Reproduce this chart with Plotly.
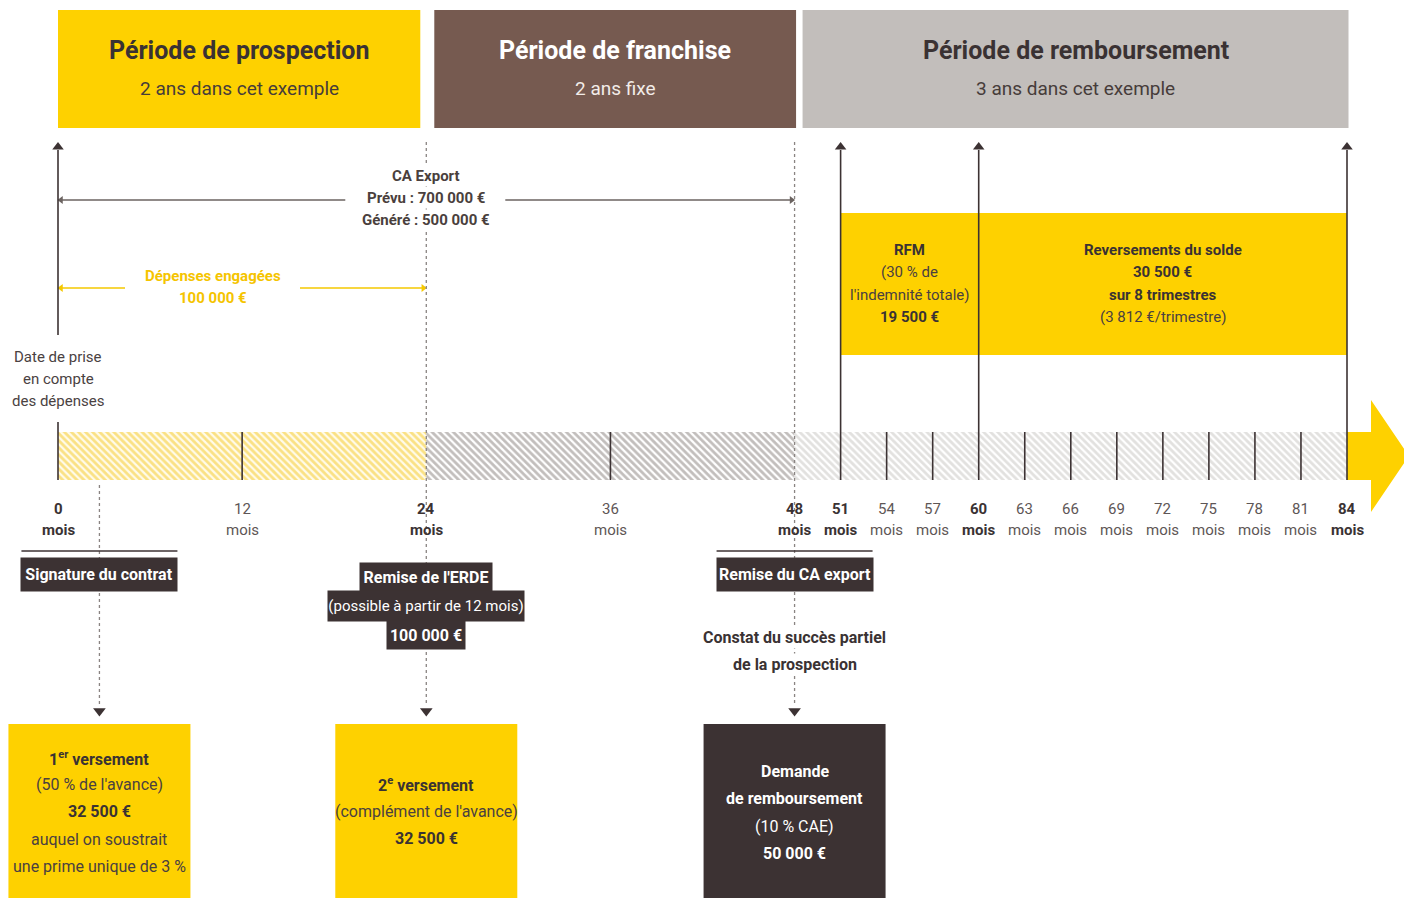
import plotly.graph_objects as go

# ---------------- data ----------------
period_titles = ["Période de prospection", "Période de franchise", "Période de remboursement"]
period_subtitles = ["2 ans dans cet exemple", "2 ans fixe", "3 ans dans cet exemple"]
period_start = [0, 24, 48]
period_end = [24, 48, 84]

month_ticks = [0, 12, 24, 36, 48, 51, 54, 57, 60, 63, 66, 69, 72, 75, 78, 81, 84]
bold_ticks = [0, 24, 48, 51, 60, 84]
tall_ticks = [51, 60, 84]          # arrows going up to the top bands
short_ticks = [12, 36, 54, 57, 63, 66, 69, 72, 75, 78, 81]
dotted_ticks = [24, 48]

ca_export_lines = ["CA Export", "Prévu : 700 000 €", "Généré : 500 000 €"]
depenses_lines = ["Dépenses engagées", "100 000 €"]
date_lines = ["Date de prise", "en compte", "des dépenses"]

rfm_start, rfm_split, rfm_end = 51, 60, 84
rfm_lines = [("RFM", True), ("(30 % de", False), ("l'indemnité totale)", False), ("19 500 €", True)]
solde_lines = [("Reversements du solde", True), ("30 500 €", True), ("sur 8 trimestres", True), ("(3 812 €/trimestre)", False)]

event_months = [2.7, 24, 48]
event_labels = [
    ["Signature du contrat"],
    ["Remise de l'ERDE", "(possible à partir de 12 mois)", "100 000 €"],
    ["Remise du CA export"],
]
event_bold = [[True], [True, False, True], [True]]
constat_lines = ["Constat du succès partiel", "de la prospection"]

box_lines = [
    [("1<sup>er</sup> versement", True), ("(50 % de l'avance)", False), ("32 500 €", True),
     ("auquel on soustrait", False), ("une prime unique de 3 %", False)],
    [("2<sup>e</sup> versement", True), ("(complément de l'avance)", False), ("32 500 €", True)],
    [("Demande", True), ("de remboursement", True), ("(10 % CAE)", False), ("50 000 €", True)],
]

# ---------------- style ----------------
FONT = "Roboto, Liberation Sans, sans-serif"
YELLOW = "#FED100"
BROWN = "#765A50"
GRAY = "#C2BEBB"
DARK = "#3C3233"
TEXT = "#3A3233"
GTEXT = "#5E5656"
PX_PER_MONTH = (1347 - 58) / 84.0
W, H = 1404, 898
X0 = -58 / PX_PER_MONTH
X1 = X0 + W / PX_PER_MONTH


def m(px):
    """convert a pixel offset into months"""
    return px / PX_PER_MONTH


fig = go.Figure()


def txt(x, y, text, size, color, bold=False, bg=None, pad=1, w=None, h=None):
    fig.add_annotation(x=x, y=y, xref="x", yref="y", showarrow=False,
                       text=f"<b>{text}</b>" if bold else text,
                       font=dict(family=FONT, size=size, color=color),
                       xanchor="center", yanchor="middle",
                       bgcolor=bg, borderpad=pad, width=w, height=h)


def seg(x0, x1, y0, y1, color, width=1.6, dash=None):
    fig.add_shape(type="line", xref="x", yref="y", x0=x0, x1=x1, y0=y0, y1=y1,
                  line=dict(color=color, width=width, dash=dash))


def heads(xs, ys, symbols, size, color):
    fig.add_trace(go.Scatter(x=xs, y=ys, mode="markers",
                             marker=dict(symbol=symbols, size=size, color=color, line=dict(width=0)),
                             showlegend=False, hoverinfo="skip"))


# ---- top period bands ----
for i, (s, e) in enumerate(zip(period_start, period_end)):
    col = [YELLOW, BROWN, GRAY][i]
    x_left = s + (m(8) if s > 0 else 0)
    x_right = e - m(6) if i == 0 else e + m(1.5)
    fig.add_shape(type="rect", xref="x", yref="y", x0=x_left, x1=x_right, y0=10, y1=128,
                  fillcolor=col, line=dict(width=0), layer="below")
    c = (x_left + x_right) / 2
    tcol = "white" if i == 1 else TEXT
    scol = "#F2ECE8" if i == 1 else "#463C3A"
    txt(c, 50, period_titles[i], 25, tcol, bold=True)
    txt(c, 88, period_subtitles[i], 19, scol)

# ---- RFM yellow block ----
fig.add_shape(type="rect", xref="x", yref="y", x0=rfm_start, x1=rfm_end, y0=213, y1=355,
              fillcolor=YELLOW, line=dict(width=0), layer="below")
rc = (rfm_start + rfm_split) / 2
sc = (rfm_split + rfm_end) / 2
for k, y in enumerate([250, 272, 295, 317]):
    t, b = rfm_lines[k]
    txt(rc, y, t, 15, TEXT if b else "#4A4040", bold=b)
    t, b = solde_lines[k]
    txt(sc, y, t, 15, TEXT if b else "#4A4040", bold=b)

# ---- hatched time bar ----
seg_styles = [("#F5C81E", "#FFFBEA"), ("#857D7A", "#FFFFFF"), ("#C6C3C0", "#FFFFFF")]
for (s, e), (fg, bg) in zip(zip(period_start, period_end), seg_styles):
    fig.add_trace(go.Bar(orientation="h", y=[456], x=[e - s], base=[s], width=48,
                         marker=dict(color=bg, line=dict(width=0),
                                     pattern=dict(shape="\\", fgcolor=fg, bgcolor=bg,
                                                  size=5, solidity=0.55)),
                         showlegend=False, hoverinfo="skip"))

# big yellow arrow at the end
end = period_end[-1]
fig.add_shape(type="path", xref="x", yref="y",
              path=(f"M {end},432 L {end + m(24)},432 L {end + m(24)},400 L {end + m(62)},456 "
                    f"L {end + m(24)},512 L {end + m(24)},480 L {end},480 Z"),
              fillcolor=YELLOW, line=dict(width=0))

# ticks inside the bar
for t in short_ticks:
    seg(t, t, 432, 480, DARK)
seg(0, 0, 422, 480, DARK)

# tall arrows up to the bands
up = [0] + tall_ticks
for t in up:
    seg(t, t, 150, 335 if t == 0 else 480, DARK)
heads(up, [147] * len(up), "triangle-up", 10, DARK)

# dotted vertical lines
for t in dotted_ticks:
    seg(t, t, 142, 705, "#8A8482", 1.3, "dot")
seg(event_months[0], event_months[0], 485, 705, "#8A8482", 1.3, "dot")
heads(event_months, [711] * len(event_months), "triangle-down", 11, DARK)

# ---- horizontal arrows ----
ca_c = period_end[0]
seg(m(3), ca_c - m(81), 200, 200, "#6B6360", 1.4)
seg(ca_c + m(79), period_end[1] - m(3), 200, 200, "#6B6360", 1.4)
heads([m(3), period_end[1] - m(3)], [200, 200], ["triangle-left", "triangle-right"], 7, "#6B6360")

seg(m(3), m(67), 288, 288, "#F5C800", 1.6)
seg(m(242), period_end[0] - m(3), 288, 288, "#F5C800", 1.6)
heads([m(3), period_end[0] - m(3)], [288, 288], ["triangle-left", "triangle-right"], 7, "#F5C800")

for y, t in zip([176, 198, 220], ca_export_lines):
    txt(ca_c, y, t, 15, "#4A3F3D", bold=True, bg="white")
for y, t in zip([276, 298], depenses_lines):
    txt(m(213 - 58), y, t, 15, "#F5C400", bold=True)
for y, t in zip([357, 379, 401], date_lines):
    txt(0, y, t, 15, "#4A4242")

# ---- tick labels ----
for t in month_ticks:
    b = t in bold_ticks
    col = TEXT if b else GTEXT
    txt(t, 509, str(t), 15, col, bold=b)
    txt(t, 530, "mois", 15, col, bold=b)

# ---- event boxes ----
for em, labels, bolds in zip(event_months, event_labels, event_bold):
    if len(labels) == 1:
        seg(em - m(78), em + m(78), 551, 551, DARK, 1.5)
        txt(em, 574, labels[0], 16, "white", bold=True, bg=DARK, pad=0, w=156, h=33)
    else:
        sizes = [(132, 28), (196, 30), (78, 28)]
        for y, t, b, (bw, bh) in zip([577, 606, 635], labels, bolds, sizes):
            txt(em, y, t, 16 if b else 15, "white", bold=b, bg=DARK, pad=0, w=bw, h=bh)

for y, t in zip([637, 664], constat_lines):
    txt(event_months[2], y, t, 16, TEXT, bold=True, bg="white")

# ---- bottom boxes ----
box_cols = [YELLOW, YELLOW, DARK]
box_text_y = [[758, 784, 811, 839, 866], [784, 811, 838], [771, 798, 826, 853]]
for em, col, lines, ys in zip(event_months, box_cols, box_lines, box_text_y):
    fig.add_shape(type="rect", xref="x", yref="y", x0=em - m(91), x1=em + m(91), y0=724, y1=905,
                  fillcolor=col, line=dict(width=0), layer="below")
    for y, (t, b) in zip(ys, lines):
        c = "white" if col == DARK else ("#3A3233" if b else "#4A4040")
        txt(em, y, t, 16, c, bold=b)

fig.update_layout(
    width=W, height=H, margin=dict(l=0, r=0, t=0, b=0),
    paper_bgcolor="white", plot_bgcolor="white", barmode="overlay",
    xaxis=dict(range=[X0, X1], visible=False, fixedrange=True),
    yaxis=dict(range=[H, 0], visible=False, fixedrange=True),
    showlegend=False,
)
fig.write_html("out.html", config={"displayModeBar": False},
               post_script="document.body.style.margin='0';document.body.style.overflow='hidden';")
